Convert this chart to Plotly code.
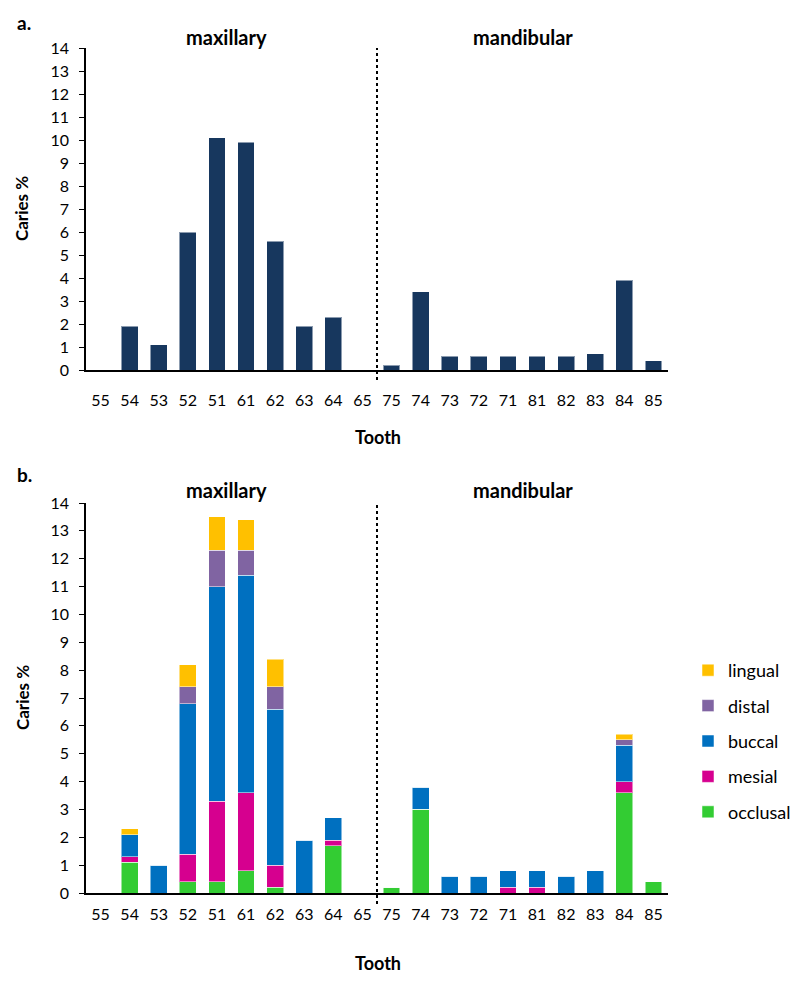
import plotly.graph_objects as go

teeth = ["55", "54", "53", "52", "51", "61", "62", "63", "64", "65",
         "75", "74", "73", "72", "71", "81", "82", "83", "84", "85"]

caries_total = [0, 1.9, 1.1, 6.0, 10.1, 9.9, 5.6, 1.9, 2.3, 0,
                0.2, 3.4, 0.6, 0.6, 0.6, 0.6, 0.6, 0.7, 3.9, 0.4]

occlusal = [0, 1.1, 0, 0.4, 0.4, 0.8, 0.2, 0, 1.7, 0,
            0.2, 3.0, 0, 0, 0, 0, 0, 0, 3.6, 0.4]
mesial = [0, 0.2, 0, 1.0, 2.9, 2.8, 0.8, 0, 0.2, 0,
          0, 0, 0, 0, 0.2, 0.2, 0, 0, 0.4, 0]
buccal = [0, 0.8, 1.0, 5.4, 7.7, 7.8, 5.6, 1.9, 0.8, 0,
          0, 0.8, 0.6, 0.6, 0.6, 0.6, 0.6, 0.8, 1.3, 0]
distal = [0, 0, 0, 0.6, 1.3, 0.9, 0.8, 0, 0, 0,
          0, 0, 0, 0, 0, 0, 0, 0, 0.2, 0]
lingual = [0, 0.2, 0, 0.8, 1.2, 1.1, 1.0, 0, 0, 0,
           0, 0, 0, 0, 0, 0, 0, 0, 0.2, 0]

surfaces = [("occlusal", occlusal, "#33CC33", 5),
            ("mesial", mesial, "#D6008F", 4),
            ("buccal", buccal, "#0070C0", 3),
            ("distal", distal, "#8064A2", 2),
            ("lingual", lingual, "#FFC000", 1)]

FONT = "Lato"
W, H = 800, 984
OFF = 8  # page body margin

fig = go.Figure()

fig.add_trace(go.Bar(x=teeth, y=caries_total, marker_color="#17375E",
                     marker_line=dict(color="rgba(255,255,255,0.5)", width=1),
                     width=0.58, showlegend=False, xaxis="x", yaxis="y"))

for name, vals, col, rank in surfaces:
    fig.add_trace(go.Bar(x=teeth, y=vals, name=name, marker_color=col,
                         marker_line=dict(color="rgba(255,255,255,0.5)", width=1),
                         width=0.58, xaxis="x2", yaxis="y2", legendgroup=name,
                         legendrank=rank))

def px_x(p):
    return (p - OFF) / W

def px_y(p):
    return 1 - (p - OFF) / H

def xaxis_style(ticklen):
    return dict(type="category", showline=True, linecolor="black", linewidth=1.5,
                ticks="outside", ticklen=ticklen, tickcolor="rgba(0,0,0,0)",
                tickfont=dict(family=FONT, size=16, color="black"),
                showgrid=False, zeroline=False, fixedrange=True,
                range=[-0.5, 19.5])

ya = dict(range=[0, 14], dtick=1, tick0=0, showline=True, linecolor="black",
          linewidth=1.5, ticks="outside", ticklen=5, tickcolor="black",
          tickfont=dict(family=FONT, size=16, color="black"),
          showgrid=False, zeroline=False, ticklabelstandoff=7)

fig.update_layout(
    width=W, height=H,
    margin=dict(l=0, r=0, t=0, b=0, autoexpand=False),
    plot_bgcolor="white", paper_bgcolor="white",
    barmode="stack",
    font=dict(family=FONT, color="black"),
    xaxis=dict(xaxis_style(15), domain=[px_x(86), px_x(668)], anchor="y"),
    yaxis=dict(ya, domain=[px_y(370), px_y(48)], anchor="x"),
    xaxis2=dict(xaxis_style(6), domain=[px_x(86), px_x(668)], anchor="y2"),
    yaxis2=dict(ya, domain=[px_y(893), px_y(503)], anchor="x2"),
    legend=dict(x=px_x(688), y=px_y(652), xanchor="left", yanchor="top",
                traceorder="grouped", tracegroupgap=9,
                font=dict(family=FONT, size=18, color="black"),
                itemwidth=30, bgcolor="rgba(0,0,0,0)"),
    showlegend=True,
)

annos = [
    ("a.", 15, 22, "left", 19), ("b.", 15, 474, "left", 19),
    ("maxillary", 226, 37, "center", 20), ("mandibular", 523, 37, "center", 20),
    ("maxillary", 226, 490, "center", 20), ("mandibular", 523, 490, "center", 20),
    ("Tooth", 378, 437, "center", 18), ("Tooth", 378, 963, "center", 18),
]
for txt, x, y, al, sz in annos:
    fig.add_annotation(text="<b>%s</b>" % txt, x=px_x(x), y=px_y(y),
                       xref="paper", yref="paper", showarrow=False,
                       xanchor=al, yanchor="middle",
                       font=dict(family=FONT, size=sz, color="black"))
for y in (209, 698):
    fig.add_annotation(text="<b>Caries %</b>", x=px_x(22), y=px_y(y),
                       xref="paper", yref="paper", showarrow=False,
                       textangle=-90, xanchor="center", yanchor="middle",
                       font=dict(family=FONT, size=17, color="black"))

fig.add_shape(type="line", xref="x", yref="paper", x0=9.5, x1=9.5,
              y0=px_y(380), y1=px_y(48),
              line=dict(color="black", width=2, dash="dot"))
fig.add_shape(type="line", xref="x2", yref="paper", x0=9.5, x1=9.5,
              y0=px_y(904), y1=px_y(503),
              line=dict(color="black", width=2, dash="dot"))

fig.write_html("out.html")
